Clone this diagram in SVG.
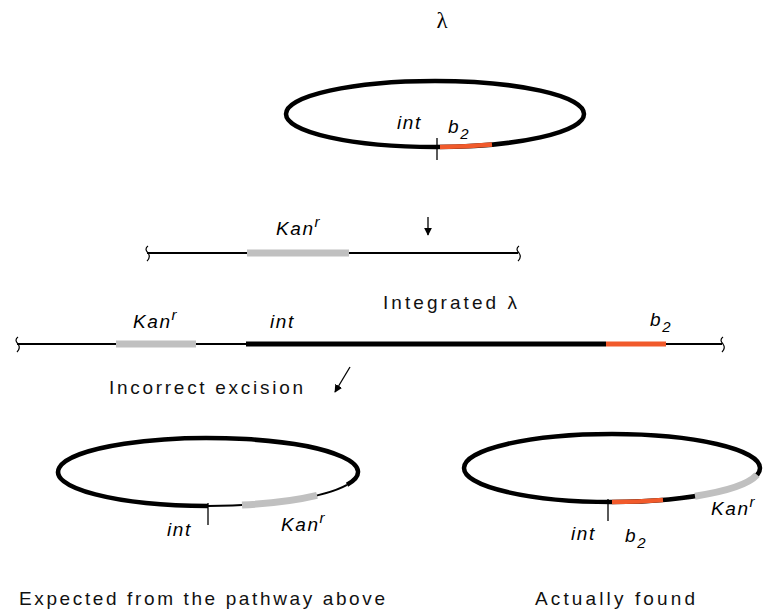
<svg xmlns="http://www.w3.org/2000/svg" width="764" height="612" viewBox="0 0 764 612">
<style>
.lbl{font-family:"Liberation Sans",Arial,sans-serif;font-size:19px;fill:#111}
.it{font-family:"Liberation Sans",Arial,sans-serif;font-size:19px;font-style:italic;fill:#000;letter-spacing:1.6px}
.sup{font-size:15px}
.thick{fill:none;stroke:#000;stroke-width:4.5}
.thin{fill:none;stroke:#000;stroke-width:2}
.gray{fill:none;stroke:#c0c0c0;stroke-width:7}
.red{fill:none;stroke:#f15a2b;stroke-width:4.5}
.tick{stroke:#000;stroke-width:1.3}
.sq{fill:none;stroke:#000;stroke-width:1.2}
</style>
<defs>
<marker id="ah" viewBox="0 0 10 10" refX="9" refY="5" markerWidth="8" markerHeight="8" markerUnits="userSpaceOnUse" orient="auto">
<path d="M0,0 L10,5 L0,10 z" fill="#000"/>
</marker>
</defs>
<rect width="764" height="612" fill="#fff"/>

<g id="lambda-title">
<text x="442" y="28" font-family="Liberation Serif,serif" font-size="23" text-anchor="middle">λ</text>
</g>

<g id="lambda-circle">
<ellipse cx="435" cy="114" rx="149" ry="33" class="thick"/>
<path d="M440,147 A149,33 0 0 0 492,144.5" class="red"/>
<line x1="437" y1="138" x2="437" y2="160" class="tick"/>
<text x="397" y="129" class="it">int</text>
<text x="448" y="133" class="it">b<tspan class="sup" font-size="19" dy="6">2</tspan></text>
</g>

<g id="chromosome">
<line x1="147" y1="253" x2="518" y2="253" class="thin"/>
<line x1="247" y1="253" x2="349" y2="253" class="gray"/>
<path d="M148,246 q-4,3 0,7 q3,4 -1,8" class="sq"/>
<path d="M519,246 q-4,3 0,7 q3,4 -1,8" class="sq"/>
<text x="276" y="235" class="it">Kan<tspan class="sup" dy="-8">r</tspan></text>
</g>

<g id="integrated">
<text x="383" y="309" class="lbl" textLength="134" lengthAdjust="spacing">Integrated λ</text>
<line x1="17" y1="344" x2="722" y2="344" class="thin"/>
<line x1="116" y1="344" x2="196" y2="344" class="gray"/>
<line x1="246" y1="344" x2="606" y2="344" stroke="#000" stroke-width="5"/>
<line x1="606" y1="344" x2="666" y2="344" stroke="#f15a2b" stroke-width="5"/>
<path d="M18,337 q-4,3 0,7 q3,4 -1,8" class="sq"/>
<path d="M723,337 q-4,3 0,7 q3,4 -1,8" class="sq"/>
<text x="133" y="328" class="it">Kan<tspan class="sup" dy="-8">r</tspan></text>
<text x="270" y="328" class="it">int</text>
<text x="650" y="326" class="it">b<tspan class="sup" font-size="19" dy="6">2</tspan></text>
</g>

<g id="excision-label">
<text x="109" y="394" class="lbl" textLength="194" lengthAdjust="spacing">Incorrect excision</text>
</g>

<g id="expected">
<path d="M208,506 A150,34 0 1 1 347,484.8" class="thick"/>
<path d="M347,484.8 A150,34 0 0 1 208,506" class="thin"/>
<path d="M317,495.4 A150,34 0 0 1 242,505.1" class="gray" stroke-width="6"/>
<line x1="208" y1="503" x2="208" y2="525" class="tick"/>
<text x="167" y="536" class="it">int</text>
<text x="281" y="531" class="it">Kan<tspan class="sup" dy="-8">r</tspan></text>
<text x="19" y="605" class="lbl" textLength="366" lengthAdjust="spacing">Expected from the pathway above</text>
</g>

<g id="found">
<ellipse cx="612" cy="468" rx="148" ry="34" class="thick"/>
<path d="M612,502 A148,34 0 0 0 663,499.9" class="red"/>
<path d="M695,496.2 A148,34 0 0 0 757,474.8" class="gray" stroke-width="5"/>
<line x1="608" y1="499" x2="608" y2="521" class="tick"/>
<text x="571" y="540" class="it">int</text>
<text x="625" y="542" class="it">b<tspan class="sup" font-size="19" dy="6">2</tspan></text>
<text x="711" y="515" class="it">Kan<tspan class="sup" dy="-8">r</tspan></text>
<text x="535" y="605" class="lbl" textLength="160" lengthAdjust="spacing">Actually found</text>
</g>

<g id="connectors">
<line x1="428" y1="217" x2="428" y2="235" stroke="#000" stroke-width="1.3" marker-end="url(#ah)"/>
<line x1="350" y1="367" x2="335" y2="392" stroke="#000" stroke-width="1.3" marker-end="url(#ah)"/>
</g>
</svg>
